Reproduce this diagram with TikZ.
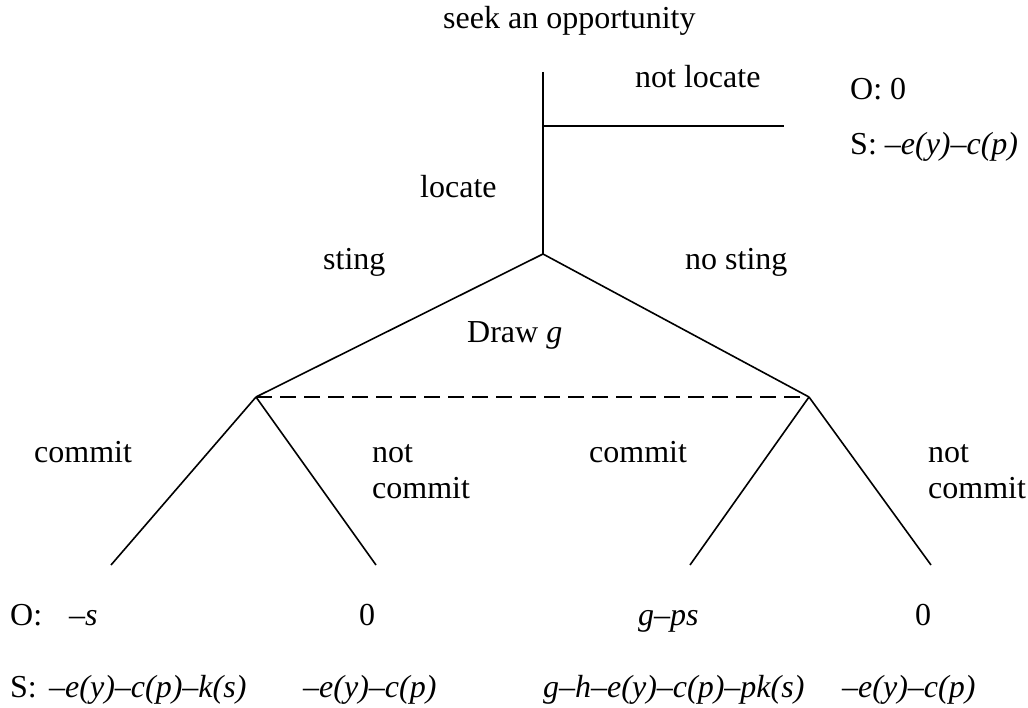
\documentclass[tikz,border=0pt]{standalone}
\usepackage{fontspec}
\setmainfont{Liberation Serif}
\begin{document}
\begin{tikzpicture}[x=1pt,y=-1pt,
  lbl/.style={anchor=base west,inner sep=0pt,font=\fontsize{32}{36}\selectfont},
  edge/.style={line width=1.6pt},
  infoset/.style={line width=2.2pt,dash pattern=on 16pt off 8pt}]
\useasboundingbox (0,0) rectangle (1028,708);
% tree points
\coordinate (top) at (543,72);
\coordinate (fork) at (543,126);
\coordinate (nl) at (784,126);
\coordinate (loc) at (543,254);
\coordinate (L) at (256,397);
\coordinate (R) at (809,397);
\coordinate (LL) at (111,565);
\coordinate (LR) at (376,565);
\coordinate (RL) at (690,565);
\coordinate (RR) at (931,565);
% edges
\draw[edge] (top) -- (loc);
\draw[edge] (fork) -- (nl);
\draw[edge] (loc) -- (L);
\draw[edge] (loc) -- (R);
\draw[infoset] (L) -- (R);
\draw[edge] (L) -- (LL);
\draw[edge] (L) -- (LR);
\draw[edge] (R) -- (RL);
\draw[edge] (R) -- (RR);
% labels
\node[lbl] (seek) at (443,29) {seek an opportunity};
\node[lbl] (notloc) at (635,88) {not locate};
\node[lbl] (o0) at (850,100) {O: 0};
\node[lbl] (s0) at (850,155) {S: \textit{–e(y)–c(p)}};
\node[lbl] (locate) at (420,198) {locate};
\node[lbl] (sting) at (323,270) {sting};
\node[lbl] (nosting) at (685,270) {no sting};
\node[lbl] (draw) at (467,343) {Draw \textit{g}};
\node[lbl] (c1) at (34,462) {commit};
\node[lbl] (n1a) at (372,462) {not};
\node[lbl] (n1b) at (372,498) {commit};
\node[lbl] (c2) at (589,462) {commit};
\node[lbl] (n2a) at (928,462) {not};
\node[lbl] (n2b) at (928,498) {commit};
% payoffs
\node[lbl] (oh) at (10,625) {O:};
\node[lbl] (o1) at (69,625) {\textit{–s}};
\node[lbl] (o2) at (359,625) {0};
\node[lbl] (o3) at (638,625) {\textit{g–ps}};
\node[lbl] (o4) at (915,625) {0};
\node[lbl] (sh) at (10,697) {S:};
\node[lbl] (s1) at (49,697) {\textit{–e(y)–c(p)–k(s)}};
\node[lbl] (s2) at (303,697) {\textit{–e(y)–c(p)}};
\node[lbl] (s3) at (543,697) {\textit{g–h–e(y)–c(p)–pk(s)}};
\node[lbl] (s4) at (842,697) {\textit{–e(y)–c(p)}};
\end{tikzpicture}
\end{document}
